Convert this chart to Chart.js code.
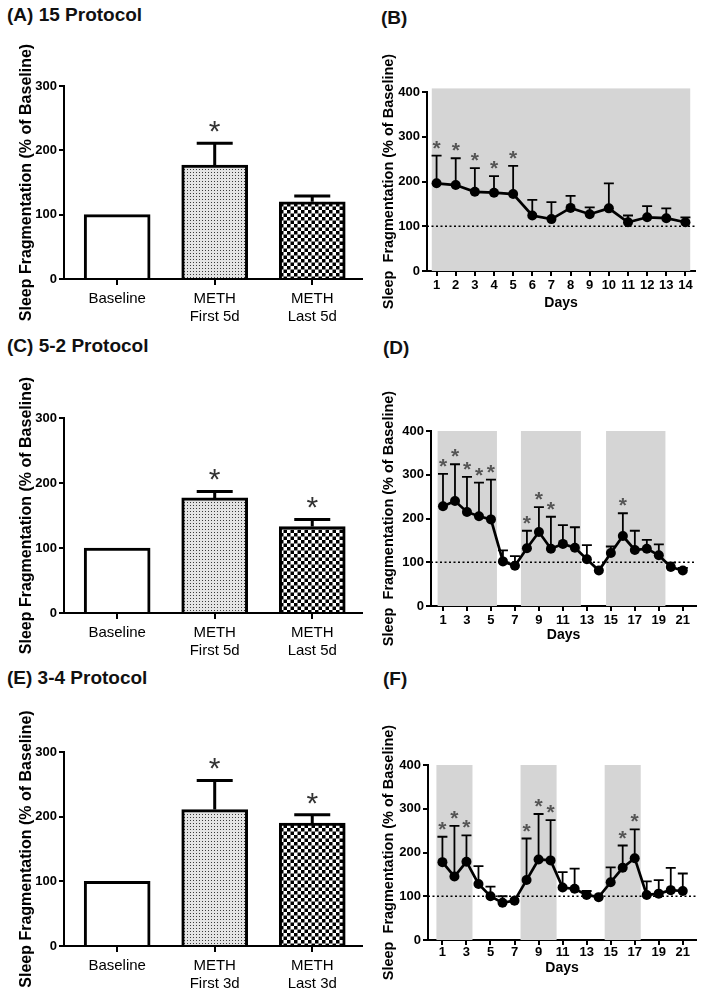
<!DOCTYPE html>
<html>
<head>
<meta charset="utf-8">
<script src="https://cdn.jsdelivr.net/npm/chart.js"></script>
<style>
  body { margin: 0; background: #fff; width: 704px; height: 995px; position: relative; overflow: hidden; font-family: "Liberation Sans", Arial, sans-serif; }
  canvas { position: absolute; }
  .ttl { position: absolute; font-weight: bold; font-size: 19px; line-height: 19px; color: #111; white-space: nowrap; }
</style>
</head>
<body>
<div class="ttl" style="left:7px;top:5px">(A) 15 Protocol</div>
<div class="ttl" style="left:381px;top:8px">(B)</div>
<div class="ttl" style="left:7px;top:336px">(C) 5-2 Protocol</div>
<div class="ttl" style="left:383px;top:338px">(D)</div>
<div class="ttl" style="left:7px;top:668px">(E) 3-4 Protocol</div>
<div class="ttl" style="left:383px;top:669px">(F)</div>

<canvas id="chartA" width="366" height="330" style="left:0;top:0"></canvas>
<canvas id="chartB" width="352" height="330" style="left:352px;top:0"></canvas>
<canvas id="chartC" width="366" height="330" style="left:0;top:330px"></canvas>
<canvas id="chartD" width="352" height="330" style="left:352px;top:330px"></canvas>
<canvas id="chartE" width="366" height="335" style="left:0;top:660px"></canvas>
<canvas id="chartF" width="352" height="335" style="left:352px;top:660px"></canvas>

<script>
  // ---- data ----
  const cats5d = [["Baseline"], ["METH", "First 5d"], ["METH", "Last 5d"]];
  const cats3d = [["Baseline"], ["METH", "First 3d"], ["METH", "Last 3d"]];

  const meanA = [100, 177, 120];
  const semA = [0, 34, 9];
  const starA = [false, true, false];

  const meanC = [100, 177, 133];
  const semC = [0, 10, 11];
  const starC = [false, true, true];

  const meanE = [100, 211, 190];
  const semE = [0, 45, 13];
  const starE = [false, true, true];

  const daysB = [1, 2, 3, 4, 5, 6, 7, 8, 9, 10, 11, 12, 13, 14];
  const meanB = [196, 192, 177, 175, 172, 124, 116, 141, 127, 140, 109, 120, 118, 109];
  const semB = [62, 60, 53, 37, 63, 35, 38, 27, 15, 56, 15, 25, 22, 11];
  const starB = [1, 2, 3, 4, 5];
  const ticksB = [1, 2, 3, 4, 5, 6, 7, 8, 9, 10, 11, 12, 13, 14];
  const bandsB = [[0.75, 14.25]];

  const days21 = [1, 2, 3, 4, 5, 6, 7, 8, 9, 10, 11, 12, 13, 14, 15, 16, 17, 18, 19, 20, 21];
  const ticks21 = [1, 3, 5, 7, 9, 11, 13, 15, 17, 19, 21];

  const meanD = [228, 240, 215, 205, 198, 102, 92, 132, 169, 131, 142, 133, 107, 81, 121, 160, 128, 131, 116, 89, 81];
  const semD = [74, 84, 80, 77, 91, 25, 22, 40, 57, 73, 43, 47, 32, 0, 15, 52, 44, 20, 25, 10, 6];
  const starD = [1, 2, 3, 4, 5, 8, 9, 10, 16];
  const bandsD = [[0.55, 5.5], [7.5, 12.5], [14.6, 19.55]];

  const meanF = [178, 145, 179, 128, 100, 85, 90, 137, 184, 182, 120, 117, 103, 98, 132, 165, 187, 103, 106, 114, 112];
  const semF = [58, 116, 60, 41, 22, 15, 0, 95, 104, 92, 35, 46, 9, 0, 34, 51, 66, 31, 31, 51, 40];
  const starF = [1, 2, 3, 8, 9, 10, 16, 17];
  const bandsF = [[0.5, 3.5], [7.5, 10.5], [14.5, 17.5]];

  const yTitle = "Sleep Fragmentation (% of Baseline)";
  const yTitleDays = "Sleep  Fragmentation (% of Baseline)";

  Chart.defaults.font.family = '"Liberation Sans", Arial, sans-serif';
  Chart.defaults.color = "#000";

  function dotPattern() {
    const c = document.createElement("canvas");
    c.width = 3; c.height = 3;
    const g = c.getContext("2d");
    g.fillStyle = "#e4e4e4"; g.fillRect(0, 0, 3, 3);
    g.fillStyle = "#3a3a3a"; g.fillRect(1, 1, 1, 1);
    return g.createPattern(c, "repeat");
  }

  function checkPattern() {
    const c = document.createElement("canvas");
    c.width = 7; c.height = 7;
    const g = c.getContext("2d");
    g.fillStyle = "#fff"; g.fillRect(0, 0, 7, 7);
    g.fillStyle = "#000";
    g.fillRect(0, 0, 3.5, 3.5);
    g.fillRect(3.5, 3.5, 3.5, 3.5);
    return g.createPattern(c, "repeat");
  }

  // error bars, asterisks, shaded bands, dotted baseline
  function overlay(cfg) {
    return {
      id: "overlay",
      beforeDatasetsDraw(chart) {
        const { ctx, chartArea, scales: { x, y } } = chart;
        ctx.save();
        (cfg.bands || []).forEach(b => {
          const x0 = x.getPixelForValue(b[0]), x1 = x.getPixelForValue(b[1]);
          const yt = y.getPixelForValue(cfg.bandTop), yb = y.getPixelForValue(0);
          ctx.fillStyle = "#d5d5d5";
          ctx.fillRect(x0, yt, x1 - x0, yb - yt);
        });
        if (cfg.refLine != null) {
          const yr = y.getPixelForValue(cfg.refLine);
          ctx.strokeStyle = "#000";
          ctx.lineWidth = 1.5;
          ctx.setLineDash([2, 2.5]);
          ctx.beginPath();
          ctx.moveTo(chartArea.left, yr);
          ctx.lineTo(chartArea.right, yr);
          ctx.stroke();
          ctx.setLineDash([]);
        }
        if (cfg.kind === "line") drawErrors(chart);
        ctx.restore();
      },
      afterDatasetsDraw(chart) {
        const { ctx } = chart;
        ctx.save();
        if (cfg.kind === "bar") drawErrors(chart);
        const meta = chart.getDatasetMeta(0);
        const y = chart.scales.y;
        ctx.fillStyle = cfg.starColor;
        ctx.font = cfg.starFont;
        ctx.textAlign = "center";
        ctx.textBaseline = "alphabetic";
        cfg.mean.forEach((v, i) => {
          if (!cfg.isStar(i)) return;
          const el = meta.data[i];
          const yt = y.getPixelForValue(v + cfg.sem[i]);
          ctx.fillText("*", el.x, yt - cfg.starGap);
        });
        ctx.restore();
      }
    };

    function drawErrors(chart) {
      const { ctx } = chart;
      const meta = chart.getDatasetMeta(0);
      const y = chart.scales.y;
      ctx.strokeStyle = "#000";
      ctx.lineWidth = cfg.errWidth;
      cfg.mean.forEach((v, i) => {
        if (!cfg.sem[i]) return;
        const el = meta.data[i];
        const y0 = y.getPixelForValue(v);
        const y1 = y.getPixelForValue(v + cfg.sem[i]);
        ctx.beginPath();
        ctx.moveTo(el.x, y0);
        ctx.lineTo(el.x, y1);
        ctx.moveTo(el.x - cfg.capHalf, y1);
        ctx.lineTo(el.x + cfg.capHalf, y1);
        ctx.stroke();
      });
    }
  }

  function barChart(id, mean, sem, stars, cats, top, xh) {
    const ctx = document.getElementById(id).getContext("2d");
    new Chart(ctx, {
      type: "bar",
      data: {
        datasets: [{
          data: mean.map((v, i) => ({ x: i, y: v })),
          backgroundColor: ["#ffffff", dotPattern(), checkPattern()],
          borderColor: "#000",
          borderWidth: 3,
          barThickness: 66,
          borderSkipped: "bottom"
        }]
      },
      options: {
        responsive: false,
        animation: false,
        layout: { padding: { top: top, right: 4, left: 0, bottom: 0 } },
        plugins: { legend: { display: false }, tooltip: { enabled: false } },
        scales: {
          x: {
            type: "linear",
            offset: false,
            min: -0.545,
            max: 2.51,
            afterBuildTicks: s => { s.ticks = [0, 1, 2].map(v => ({ value: v })); },
            afterFit: s => { s.height = xh; },
            ticks: { callback: v => cats[v], font: { size: 15 }, color: "#000", padding: 5 },
            grid: { offset: false, drawOnChartArea: false, color: "#000", lineWidth: 2, tickLength: 6 },
            border: { color: "#000", width: 2 }
          },
          y: {
            min: 0,
            max: 300,
            afterFit: s => { s.width = 64; },
            ticks: { stepSize: 100, font: { size: 13, weight: "bold" }, color: "#000", padding: 2 },
            grid: { drawOnChartArea: false, color: "#000", lineWidth: 2, tickLength: 5 },
            border: { color: "#000", width: 2 },
            title: { display: true, text: yTitle, font: { size: 16, weight: "bold" }, color: "#000", padding: { top: 17, bottom: 0 } }
          }
        }
      },
      plugins: [overlay({
        kind: "bar", mean: mean, sem: sem, isStar: i => stars[i],
        errWidth: 3, capHalf: 18, starColor: "#333", starFont: "30px Arial", starGap: 2
      })]
    });
  }

  function lineChart(id, days, mean, sem, stars, ticks, bands, bandTop, xmin, xmax, left, top, right, xh, tickPad, daysPad) {
    const ctx = document.getElementById(id).getContext("2d");
    new Chart(ctx, {
      type: "line",
      data: {
        datasets: [{
          data: days.map((d, i) => ({ x: d, y: mean[i] })),
          borderColor: "#000",
          borderWidth: 2.7,
          tension: 0,
          pointRadius: 5,
          pointBackgroundColor: "#000",
          pointBorderColor: "#000",
          pointBorderWidth: 0
        }]
      },
      options: {
        responsive: false,
        animation: false,
        layout: { padding: { top: top, right: right, left: 0, bottom: 0 } },
        plugins: { legend: { display: false }, tooltip: { enabled: false } },
        scales: {
          x: {
            type: "linear",
            min: xmin,
            max: xmax,
            afterBuildTicks: s => { s.ticks = ticks.map(v => ({ value: v })); },
            afterFit: s => { s.height = xh; },
            ticks: { font: { size: 13, weight: "bold" }, color: "#000", padding: tickPad },
            grid: { drawOnChartArea: false, color: "#000", lineWidth: 2, tickLength: 5 },
            border: { color: "#000", width: 2 },
            title: { display: true, text: "Days", font: { size: 14, weight: "bold" }, color: "#000", padding: { top: 0, bottom: daysPad } }
          },
          y: {
            min: 0,
            max: 400,
            afterFit: s => { s.width = left; },
            ticks: { stepSize: 100, font: { size: 13, weight: "bold" }, color: "#000", padding: 2 },
            grid: { drawOnChartArea: false, color: "#000", lineWidth: 2, tickLength: 5 },
            border: { color: "#000", width: 2 },
            title: { display: true, text: yTitleDays, font: { size: 14.5, weight: "bold" }, color: "#000", padding: { top: 28, bottom: 0 } }
          }
        }
      },
      plugins: [overlay({
        kind: "line", mean: mean, sem: sem, isStar: i => stars.includes(days[i]),
        bands: bands, bandTop: bandTop, refLine: 100,
        errWidth: 1.8, capHalf: 5, starColor: "#555", starFont: "bold 21px Arial", starGap: 1
      })]
    });
  }

  barChart("chartA", meanA, semA, starA, cats5d, 86, 51);
  barChart("chartC", meanC, semC, starC, cats5d, 88, 47);
  barChart("chartE", meanE, semE, starE, cats3d, 92, 49);

  lineChart("chartB", daysB, meanB, semB, starB, ticksB, bandsB, 408, 0.5, 14.5, 75, 92, 9, 59, 2, 18);
  lineChart("chartD", days21, meanD, semD, starD, ticks21, bandsD, 400, 0, 22.1, 79, 101, 8, 54, 2, 16);
  lineChart("chartF", days21, meanF, semF, starF, ticks21, bandsF, 400, -0.2, 22.1, 76, 105, 8, 55, 0, 18);
</script>
</body>
</html>
